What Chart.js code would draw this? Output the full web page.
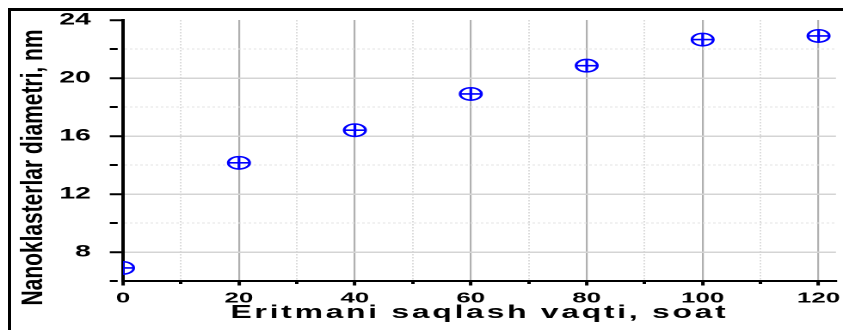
<!DOCTYPE html>
<html>
<head>
<meta charset="utf-8">
<script src="https://cdn.jsdelivr.net/npm/chart.js@4.4.1/dist/chart.umd.min.js"></script>
<style>
  html, body { margin: 0; padding: 0; background: #fff; width: 843px; height: 330px; overflow: hidden; }
  #frame { position: absolute; left: 8px; top: 8px; width: 900px; height: 400px;
           border-left: 3px solid #000; border-top: 3px solid #000; box-sizing: border-box; }
  /* the figure is drawn narrow and stretched sideways */
  #wrap { position: absolute; left: 0; top: 0; width: 490px; height: 330px;
          transform: scaleX(1.72041); transform-origin: 0 0; }
</style>
</head>
<body>
<div id="frame"></div>
<div id="wrap"><canvas id="c" width="490" height="330"></canvas></div>
<script>
// storage time (hours) and nanocluster diameter (nm)
const hours = [0, 20, 40, 60, 80, 100, 120];
const diameters = [6.9, 14.15, 16.4, 18.9, 20.85, 22.65, 22.9];

// axis ticks
const xMajorTicks = [0, 20, 40, 60, 80, 100, 120];
const xMinorTicks = [10, 30, 50, 70, 90, 110];
const yMajorTicks = [8, 12, 16, 20, 24];
const yMinorTicks = [6, 10, 14, 18, 22];

const xTitle = 'Eritmani saqlash vaqti, soat';
const yTitle = 'Nanoklasterlar diametri, nm';

const FONT = '"Liberation Sans", Arial, Helvetica, sans-serif';
const BLUE = '#0000ff';

const points = hours.map((h, i) => ({ x: h, y: diameters[i] }));

function tickVal(ctx) { return ctx && ctx.tick ? ctx.tick.value : undefined; }

// axis titles drawn by hand so the y title can be lengthened along its baseline
const axisTitles = {
  id: 'axisTitles',
  afterDraw(chart) {
    const { ctx, chartArea } = chart;
    ctx.save();
    ctx.fillStyle = '#000';
    ctx.textAlign = 'center';
    ctx.textBaseline = 'alphabetic';

    ctx.font = 'bold 18.5px ' + FONT;
    if ('letterSpacing' in ctx) ctx.letterSpacing = '1.6px';
    ctx.fillText(xTitle, (chartArea.left + chartArea.right) / 2, chartArea.bottom + 37);

    if ('letterSpacing' in ctx) ctx.letterSpacing = '0px';
    ctx.font = 'bold 17.5px ' + FONT;
    ctx.translate(24.6, (chartArea.top + chartArea.bottom) / 2 + 17);
    ctx.rotate(-Math.PI / 2);
    ctx.scale(1.197, 1);
    ctx.fillText(yTitle, 0, 0);
    ctx.restore();
  }
};

new Chart(document.getElementById('c'), {
  type: 'scatter',
  data: {
    datasets: [
      {
        data: points,
        pointStyle: 'circle',
        pointRadius: 6.2,
        pointBorderWidth: 1.6,
        pointBorderColor: BLUE,
        pointBackgroundColor: 'rgba(0,0,0,0)',
        clip: { left: 0, top: false, right: false, bottom: false }
      },
      {
        data: points,
        pointStyle: 'cross',
        pointRadius: 6.2,
        pointBorderWidth: 1.6,
        pointBorderColor: BLUE,
        clip: { left: 0, top: false, right: false, bottom: false }
      }
    ]
  },
  options: {
    responsive: false,
    devicePixelRatio: 2,
    animation: false,
    events: [],
    layout: { autoPadding: false, padding: { top: 20, right: 4.1, left: 0, bottom: 0 } },
    plugins: { legend: { display: false }, tooltip: { enabled: false } },
    scales: {
      x: {
        type: 'linear',
        min: 0,
        max: 123,
        afterBuildTicks(s) {
          s.ticks = xMajorTicks.concat(xMinorTicks).sort((a, b) => a - b).map(v => ({ value: v }));
        },
        afterFit(s) { s.height = 49; s.paddingLeft = 0; s.paddingRight = 0; },
        ticks: {
          autoSkip: false,
          maxRotation: 0,
          padding: 4,
          color: '#000',
          font: { family: FONT, size: 15, weight: 'bold' },
          callback: v => (xMajorTicks.includes(v) ? String(v) : '')
        },
        grid: {
          color: ctx => {
            const v = tickVal(ctx);
            if (v === undefined || v === 0) return 'rgba(0,0,0,0)';
            return xMajorTicks.includes(v) ? '#b0b0b0' : '#dcdcdc';
          },
          lineWidth: ctx => (xMajorTicks.includes(tickVal(ctx)) ? 1.1 : 1),
          tickColor: '#000',
          tickWidth: 2,
          tickLength: 4.5,
          tickBorderDash: ctx => (xMajorTicks.includes(tickVal(ctx)) ? [] : [2, 40])
        },
        border: {
          color: '#000',
          width: 2,
          dash: ctx => (xMinorTicks.includes(tickVal(ctx)) ? [1.5, 1.5] : [])
        }
      },
      y: {
        type: 'linear',
        min: 6,
        max: 24,
        afterBuildTicks(s) {
          s.ticks = yMajorTicks.concat(yMinorTicks).sort((a, b) => a - b).map(v => ({ value: v }));
        },
        afterFit(s) { s.width = 71.5; s.paddingTop = 0; s.paddingBottom = 0; },
        ticks: {
          autoSkip: false,
          padding: 11,
          color: '#000',
          font: { family: FONT, size: 16.5, weight: 'bold' },
          callback: v => (yMajorTicks.includes(v) ? String(v) : '')
        },
        grid: {
          color: ctx => {
            const v = tickVal(ctx);
            if (v === undefined || v === 6 || v === 24) return 'rgba(0,0,0,0)';
            return yMajorTicks.includes(v) ? '#d4d4d4' : '#e2e2e2';
          },
          lineWidth: ctx => (yMajorTicks.includes(tickVal(ctx)) ? 1.5 : 1),
          tickColor: '#000',
          tickWidth: 2,
          tickLength: 7.7,
          tickBorderDash: ctx => (yMajorTicks.includes(tickVal(ctx)) ? [] : [4.6, 40])
        },
        border: {
          color: '#000',
          width: 2,
          dash: ctx => (yMinorTicks.includes(tickVal(ctx)) ? [1.5, 1.5] : [])
        }
      }
    }
  },
  plugins: [axisTitles]
});
</script>
</body>
</html>
